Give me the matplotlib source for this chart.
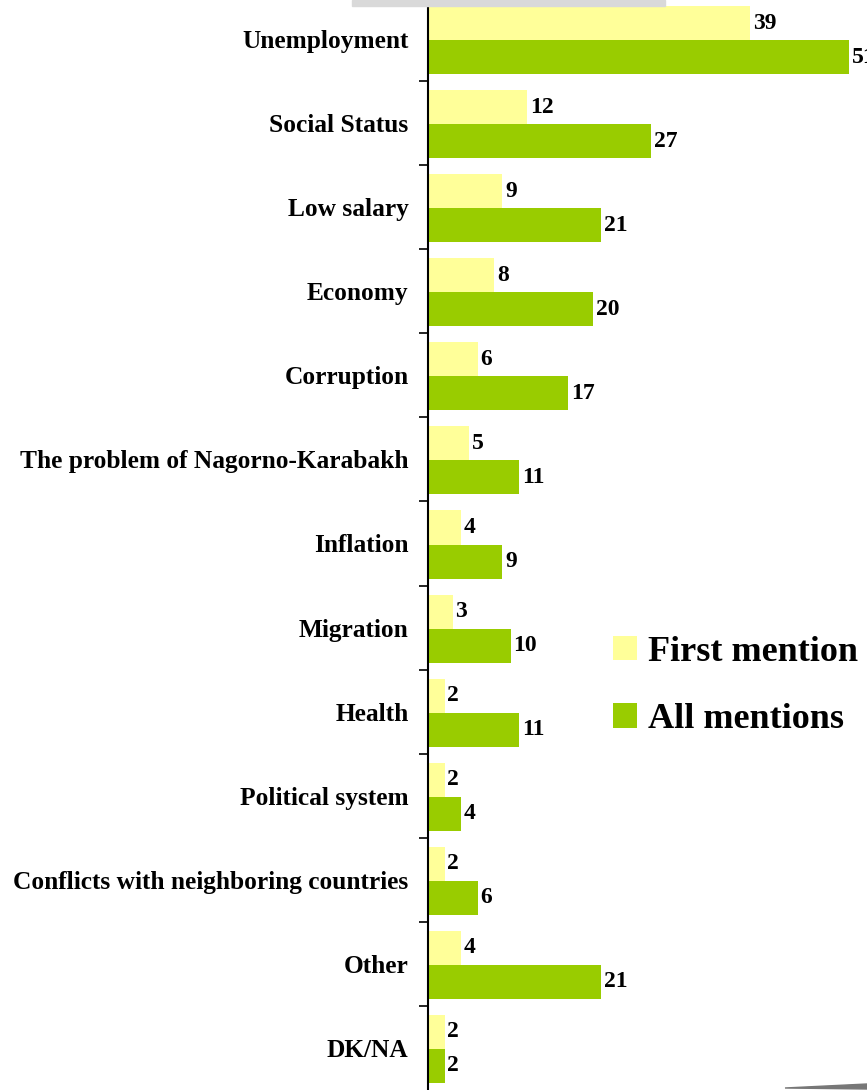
import numpy as np
import matplotlib.pyplot as plt
from matplotlib.patches import Rectangle, Patch, Polygon

categories = ['Unemployment', 'Social Status', 'Low salary', 'Economy', 'Corruption',
              'The problem of Nagorno-Karabakh', 'Inflation', 'Migration', 'Health',
              'Political system', 'Conflicts with neighboring countries', 'Other', 'DK/NA']
first_mention = [39, 12, 9, 8, 6, 5, 4, 3, 2, 2, 2, 4, 2]
all_mentions = [51, 27, 21, 20, 17, 11, 9, 10, 11, 4, 6, 21, 2]

yellow = '#FFFF99'
green = '#99CC00'

plt.rcParams['font.family'] = ['Liberation Serif', 'DejaVu Serif']
plt.rcParams['font.weight'] = 'bold'

fig = plt.figure(figsize=(8.67, 10.90), dpi=100)
ax = fig.add_axes([428/867, 0.0, 1 - 428/867, 1 + 3/1090])

y = np.arange(len(categories))
h = 0.405
off = -0.012
b1 = ax.barh(y - h/2 - off, first_mention, height=h, color=yellow)
b2 = ax.barh(y + h/2 - off, all_mentions, height=h, color=green)
ax.bar_label(b1, padding=2, fontsize=17, fontweight='bold', clip_on=False)
ax.bar_label(b2, padding=2, fontsize=17, fontweight='bold', clip_on=False)

ax.set_ylim(len(categories) - 0.5, -0.5)
ax.set_xlim(0, (867 - 428) / 8.26)

ax.set_yticks(y)
ax.set_yticklabels(categories, fontsize=18.3, fontweight='bold')
ax.tick_params(axis='y', which='major', length=0, pad=14)
ax.set_yticks(np.arange(0.5, len(categories) - 1, 1), minor=True)
ax.tick_params(axis='y', which='minor', length=6.5, width=1.2, direction='out')
ax.set_xticks([])

for s in ['top', 'right', 'bottom']:
    ax.spines[s].set_visible(False)
ax.spines['left'].set_linewidth(1.5)
ax.spines['left'].set_bounds(len(categories) - 0.5, -0.5 + 9/84)

handles = [Patch(facecolor=yellow, edgecolor='none', label='First mention'),
           Patch(facecolor=green, edgecolor='none', label='All mentions')]
fig.legend(handles=handles, loc='upper left', bbox_to_anchor=(580/867, 1 - 603/1090),
           frameon=False, prop={'family': 'Liberation Serif', 'weight': 'bold', 'size': 26},
           handlelength=0.68, handleheight=0.68, handletextpad=0.3, labelspacing=0.95)

# grey remnants from the original slide
fig.patches.append(Rectangle((352/867, 1 - 6/1090), (665 - 352)/867, 6/1090,
                             transform=fig.transFigure, color='#d9d9d9', zorder=0))
fig.patches.append(Polygon([(785/867, 2/1090), (867/867, 6/1090), (867/867, 1/1090)],
                           closed=True, transform=fig.transFigure, color='#777777', zorder=0))

fig.savefig('out.png', dpi=100)
